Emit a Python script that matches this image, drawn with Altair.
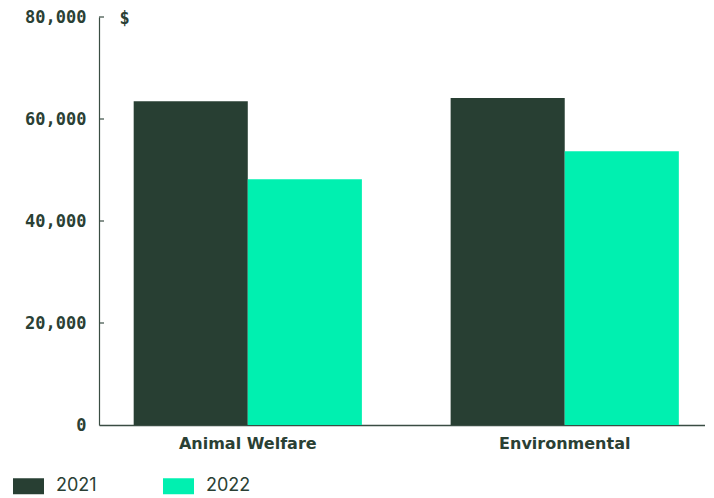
import altair as alt
import pandas as pd

categories = ["Animal Welfare", "Environmental"]
years = ["2021", "2022"]
values_2021 = [63500, 64100]
values_2022 = [48200, 53700]
y_ticks = [0, 20000, 40000, 60000, 80000]
colors = ["#283f33", "#00f0b0"]

rows = []
for c, v1, v2 in zip(categories, values_2021, values_2022):
    rows.append({"category": c, "year": years[0], "value": v1})
    rows.append({"category": c, "year": years[1], "value": v2})
df = pd.DataFrame(rows)
tick_df = pd.DataFrame({"v": y_ticks[1:]})

TEXT = "#2a4034"
AXIS = "#3a4d43"
NUMFONT = "DejaVu Sans Mono"

bars = alt.Chart(df).mark_bar().encode(
    x=alt.X(
        "category:N", sort=categories,
        scale=alt.Scale(paddingInner=0.28, paddingOuter=0.096, align=0.57),
        axis=alt.Axis(title=None, labelAngle=0, labelFont="DejaVu Sans", labelFontWeight="bold",
                      labelFontSize=16, labelColor=TEXT, labelPadding=10, ticks=False,
                      domainColor=AXIS, domainWidth=1.5),
    ),
    xOffset=alt.XOffset("year:N", sort=years, scale=alt.Scale(paddingInner=0, paddingOuter=0)),
    y=alt.Y(
        "value:Q", scale=alt.Scale(domain=[0, 80000], nice=False),
        axis=alt.Axis(values=y_ticks, format=",d", title="$", titleAngle=0, titleX=25, titleY=1,
                      titleAlign="center", titleBaseline="middle", titleFont=NUMFONT,
                      titleFontSize=17, titleFontWeight="bold", titleColor=TEXT,
                      labelFont=NUMFONT, labelFontSize=17, labelFontWeight="bold",
                      labelColor=TEXT, ticks=False, labelPadding=13, grid=False,
                      domainColor=AXIS, domainWidth=1.2),
    ),
    color=alt.Color(
        "year:N", sort=years, scale=alt.Scale(domain=years, range=colors),
        legend=alt.Legend(title=None, orient="none", legendX=-86, legendY=453.5,
                          direction="horizontal", symbolType="M-1,-0.516H1V0.516H-1Z",
                          symbolSize=961, symbolStrokeWidth=0, symbolOpacity=1,
                          labelFont="Inter", labelFontSize=18, labelColor=TEXT,
                          labelOffset=12, columnPadding=66, padding=0),
    ),
)

ticks = alt.Chart(tick_df).mark_rule(color=AXIS, strokeWidth=1.2).encode(
    y=alt.Y("v:Q"), x=alt.value(0), x2=alt.value(5)
)

chart = alt.layer(bars, ticks).properties(
    width=606, height=408,
    autosize=alt.AutoSizeParams(type="none"),
    padding={"left": 91, "top": 9, "right": 0, "bottom": 71},
).configure_view(stroke=None)

chart.save("out.html", embed_options={"renderer": "svg", "actions": False})
